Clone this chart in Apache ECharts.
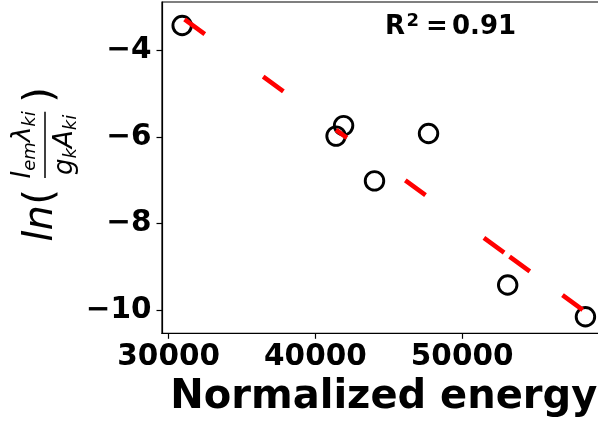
<!DOCTYPE html>
<html>
<head>
<meta charset="utf-8">
<script src="https://cdn.jsdelivr.net/npm/echarts@6/dist/echarts.min.js"></script>
<style>
  html, body { margin: 0; padding: 0; background: #ffffff; }
  #chart { width: 598px; height: 423px; }
</style>
</head>
<body>
<div id="chart"></div>
<script>
// Measured lines: normalized upper-level energy vs ln(I·λ / g·A)
const energy = [30921, 41920, 41408, 44027, 47709, 58401, 53103];
const lnIntensity = [-3.424, -5.738, -5.981, -7.016, -5.921, -10.157, -9.424];

// Linear fit evaluated at the same energies (kept in the same order)
const fitValue = [-3.240, -5.964, -5.837, -6.486, -7.398, -10.046, -8.734];

const xTicks = [30000, 40000, 50000];
const yTicks = [-10, -8, -6, -4];
const rSquared = '0.91';
const xTitle = 'Normalized energy';

const FONT = '"DejaVu Sans", sans-serif';
const chart = echarts.init(document.getElementById('chart'), null, { renderer: 'canvas' });

// text measuring helper for the composed math labels
const mctx = document.createElement('canvas').getContext('2d');
function textWidth(str, font) { mctx.font = font; return mctx.measureText(str).width; }

// place a text fragment by its alphabetic baseline
function frag(str, x, baseY, size, style, weight) {
  const font = (style || 'normal') + ' ' + (weight || 'normal') + ' ' + size + 'px ' + FONT;
  return {
    type: 'text', x: x, y: baseY - 0.346 * size, silent: true,
    style: { text: str, font: font, fill: '#000', align: 'left', verticalAlign: 'middle',
             textAlign: 'left', textVerticalAlign: 'middle' }
  };
}
function run(parts, x0, baseY) {
  let x = x0; const els = [];
  parts.forEach(p => {
    const font = (p.style || 'italic') + ' normal ' + p.size + 'px ' + FONT;
    els.push(frag(p.t, x, baseY + (p.dy || 0), p.size, p.style || 'italic'));
    x += textWidth(p.t, font);
  });
  return { els, width: x - x0 };
}
function runWidth(parts) {
  return parts.reduce((s, p) => s + textWidth(p.t, (p.style || 'italic') + ' normal ' + p.size + 'px ' + FONT), 0);
}

// y-axis title: ln( I_em λ_ki / g_k A_ki )
const numParts = [{ t: 'I', size: 26 }, { t: 'em', size: 18, dy: 5 }, { t: 'λ', size: 26 }, { t: 'ki', size: 18, dy: 5 }];
const denParts = [{ t: 'g', size: 26 }, { t: 'k', size: 18, dy: 4 }, { t: 'A', size: 26 }, { t: 'ki', size: 18, dy: 4 }];
const barStart = 63.7, barLen = 66.3;
const barMid = barStart + barLen / 2;
const numW = runWidth(numParts), denW = runWidth(denParts);
const num = run(numParts, barMid - numW / 2, -13);
const den = run(denParts, barMid - denW / 2, 29);
const yTitleChildren = [
  frag('ln', 0, 10, 40, 'italic'),
  frag('(', 37, 10, 40, 'normal'),
  { type: 'rect', silent: true, shape: { x: barStart, y: -0.75, width: barLen, height: 1.5 }, style: { fill: '#000' } },
  ...num.els,
  ...den.els,
  frag(')', 139, 10, 40, 'normal')
];

// R² annotation
const rFont = 26;
const annotation = [
  frag('R', 385, 36, rFont, 'normal', 'bold'),
  frag('2', 406.5, 28, 18, 'normal', 'bold'),
  frag('=', 426, 36, rFont, 'normal', 'bold'),
  frag(rSquared, 452, 36, rFont, 'normal', 'bold')
];

const tickLabel = { fontFamily: FONT, fontWeight: 'bold', fontSize: 29.5, color: '#000' };

chart.setOption({
  animation: false,
  backgroundColor: '#ffffff',
  grid: {
    left: 162, top: 2, right: -7.6, bottom: 89.7,
    outerBoundsMode: 'none', containLabel: false,
    show: true, borderColor: '#000', borderWidth: 1.2, backgroundColor: 'transparent'
  },
  xAxis: {
    type: 'value', min: 29547, max: 59775,
    name: xTitle, nameLocation: 'middle', nameGap: 42,
    nameTextStyle: { fontFamily: FONT, fontWeight: 'bold', fontSize: 40, color: '#000' },
    axisLine: { show: true, lineStyle: { color: '#000', width: 1.2 } },
    axisTick: { show: true, length: 5.5, lineStyle: { color: '#000', width: 1.2 }, customValues: xTicks },
    axisLabel: Object.assign({ margin: 9, customValues: xTicks, formatter: v => String(v) }, tickLabel),
    splitLine: { show: false }
  },
  yAxis: {
    type: 'value', min: -10.54, max: -2.88,
    axisLine: { show: true, lineStyle: { color: '#000', width: 1.2 } },
    axisTick: { show: true, length: 5.5, lineStyle: { color: '#000', width: 1.2 }, customValues: yTicks },
    axisLabel: Object.assign({ margin: 10.5, customValues: yTicks,
      formatter: v => (v < 0 ? '\u2212' : '') + Math.abs(v) }, tickLabel),
    splitLine: { show: false }
  },
  series: [
    {
      type: 'scatter', z: 2,
      symbol: 'circle', symbolSize: 18.5,
      itemStyle: { color: 'rgba(0,0,0,0)', borderColor: '#000', borderWidth: 2.9, opacity: 1 },
      data: energy.map((e, i) => [e, lnIntensity[i]])
    },
    {
      type: 'line', z: 3, showSymbol: false, symbol: 'none',
      lineStyle: { color: '#ff0000', width: 4.6, type: [25, 72.3], dashOffset: -3, cap: 'butt' },
      data: energy.map((e, i) => [e, fitValue[i]])
    }
  ],
  graphic: [
    { type: 'group', x: 45, y: 241.7, rotation: Math.PI / 2, silent: true, children: yTitleChildren },
    ...annotation
  ]
});
</script>
</body>
</html>
